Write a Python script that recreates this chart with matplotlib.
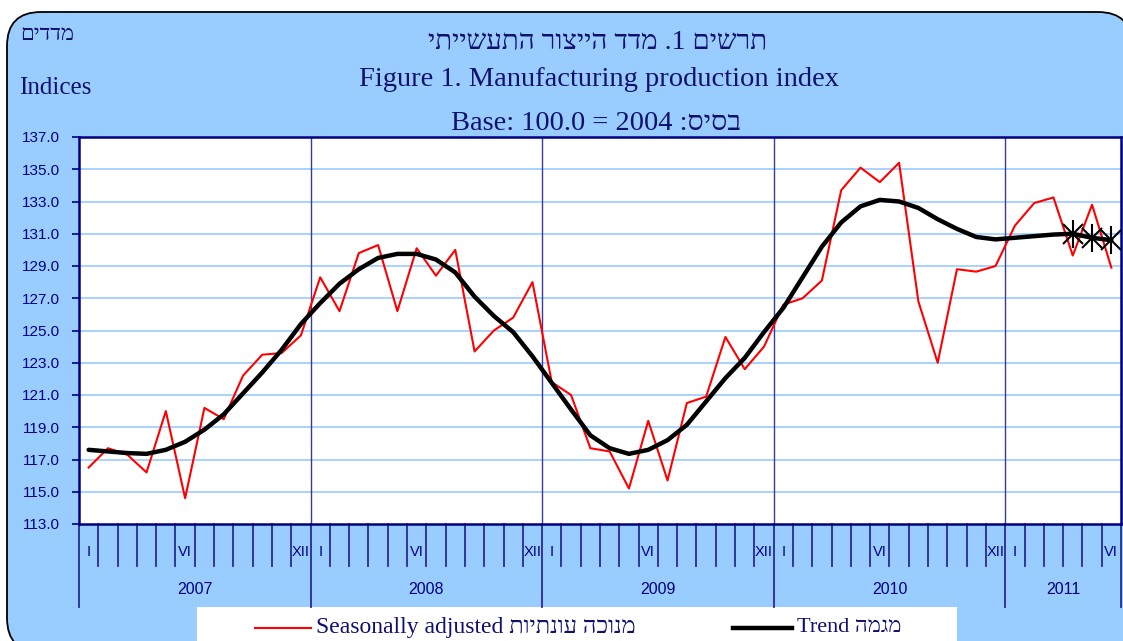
import numpy as np
import matplotlib
matplotlib.use("Agg")
import matplotlib.pyplot as plt
from matplotlib.patches import FancyBboxPatch, Rectangle
from matplotlib.lines import Line2D
import matplotlib.transforms as mtransforms

# ---------------- data ----------------
years = ["2007", "2008", "2009", "2010", "2011"]
months_per_year = [12, 12, 12, 12, 6]
month_labels = {0: "I", 5: "VI", 11: "XII"}

seasonally_adjusted = [
    116.5, 117.7, 117.3, 116.2, 120.0, 114.6, 120.2, 119.5, 122.2, 123.5, 123.6, 124.7,
    128.3, 126.2, 129.8, 130.3, 126.2, 130.1, 128.4, 130.0, 123.7, 125.0, 125.8, 128.0,
    121.8, 121.0, 117.7, 117.5, 115.2, 119.4, 115.7, 120.5, 120.9, 124.6, 122.6, 124.0,
    126.6, 127.0, 128.1, 133.7, 135.1, 134.2, 135.4, 126.8, 123.0, 128.8, 128.65, 129.0,
    131.5, 132.9, 133.25, 129.65, 132.8, 128.9,
]
trend = [
    117.6, 117.5, 117.4, 117.35, 117.6, 118.1, 118.85, 119.8, 121.1, 122.4, 123.8, 125.4,
    126.7, 127.9, 128.8, 129.5, 129.75, 129.75, 129.4, 128.6, 127.1, 125.9, 124.9, 123.4,
    121.75, 120.1, 118.5, 117.7, 117.35, 117.6, 118.2, 119.15, 120.6, 122.05, 123.3, 124.9,
    126.4, 128.3, 130.2, 131.7, 132.7, 133.1, 133.0, 132.6, 131.9, 131.3, 130.8, 130.65,
    130.75, 130.85, 130.95, 131.0, 130.75, 130.6,
]
provisional_points = 3  # last trend points marked with asterisks

yticks = np.arange(113, 137.1, 2)

# ---------------- helpers ----------------
def rtl(s):
    """Return visual (left-to-right) order for a logical Hebrew string."""
    words = s.split(" ")
    out = []
    for w in reversed(words):
        out.append(w[::-1])
    return " ".join(out)

NAVY = "#000080"
TXT = "#10106e"
BLUE_BG = "#99CCFF"
GRID = "#99CCFF"
SERIF = ["Liberation Serif", "DejaVu Serif", "DejaVu Sans"]
SANS = ["Liberation Sans", "DejaVu Sans"]

W, H = 1123, 641
fig = plt.figure(figsize=(W / 100, H / 100), dpi=100, facecolor="white")

# background panel (pixel coordinates)
bg = fig.add_axes([0, 0, 1, 1])
bg.set_xlim(0, W)
bg.set_ylim(H, 0)
bg.axis("off")
bg.add_patch(FancyBboxPatch((7, 12), 1125, 640, boxstyle="round,pad=0,rounding_size=34",
                            facecolor=BLUE_BG, edgecolor="black", linewidth=1.3))
bg.add_patch(Rectangle((197, 607), 760, 40, facecolor="white", edgecolor="none"))

# titles
bg.text(598, 42, rtl("תרשים 1. מדד הייצור התעשייתי"), ha="center", va="center",
        fontsize=20, color=TXT, family=SERIF)
bg.text(599, 80, "Figure 1. Manufacturing production index", ha="center", va="center",
        fontsize=20.5, color=TXT, family=SERIF)
bg.text(596, 124, "Base: 100.0 = 2004 " + rtl("בסיס:"), ha="center", va="center",
        fontsize=20.5, color=TXT, family=SERIF)
bg.text(20, 36, rtl("מדדים"), ha="left", va="center", fontsize=16, color=TXT, family=SERIF)
bg.text(19, 88, "Indices", ha="left", va="center", fontsize=18, color=TXT, family=SERIF)

# ---------------- main axes ----------------
left, right, top, bottom = 79, 1121, 137, 524
ax = fig.add_axes([left / W, 1 - bottom / H, (right - left) / W, (bottom - top) / H])
ax.set_facecolor("white")

n = len(seasonally_adjusted)
x = np.arange(n) + 0.5
ax.set_xlim(0, sum(months_per_year))
ax.set_ylim(113, 137)

ax.set_yticks(yticks)
ax.set_yticklabels([f"{v:.1f}" for v in yticks], family=SANS, fontsize=11, color=NAVY)
ax.tick_params(axis="y", direction="out", length=5, width=1.2, color=NAVY, pad=9)
ax.set_xticks([])
for y in yticks[1:]:
    ax.axhline(y, color=GRID, lw=1.2, zorder=1)

# year separators inside plot
bounds = np.cumsum([0] + months_per_year)
for b in bounds[1:-1]:
    ax.axvline(b, color="#3a3a9a", lw=1.0, zorder=1)

for s in ax.spines.values():
    s.set_color(NAVY)
    s.set_linewidth(1.8)

l1, = ax.plot(x, seasonally_adjusted, color="#ff0000", lw=1.5, zorder=3)
l2, = ax.plot(x, trend, color="black", lw=3.2, zorder=4, solid_capstyle="round")
ax.plot(x[-provisional_points:], trend[-provisional_points:], ls="none", marker="x",
        ms=14, mew=1.5, mec="black", zorder=5)
ax.plot(x[-provisional_points:], trend[-provisional_points:], ls="none", marker="|",
        ms=20, mew=1.5, mec="black", zorder=5)

# category axis decorations below the plot
trans = mtransforms.blended_transform_factory(ax.transData, ax.transAxes)
hpx = bottom - top
month_tick_end = -(566 - bottom) / hpx
year_tick_end = -(607 - bottom) / hpx
month_lab_y = -(552 - bottom) / hpx
year_lab_y = -(590 - bottom) / hpx
total = bounds[-1]
for m in range(total + 1):
    yend = year_tick_end if m in bounds else month_tick_end
    ax.plot([m, m], [0, yend], transform=trans, color="#2a2a96", lw=1.3, clip_on=False)
for yi, (yr, nm) in enumerate(zip(years, months_per_year)):
    start = bounds[yi]
    for k, lab in month_labels.items():
        if k < nm:
            ax.text(start + k + 0.5, month_lab_y, lab, transform=trans, ha="center", va="center",
                    fontsize=10.5, color=NAVY, family=SANS)
    ax.text(start + nm / 2, year_lab_y, yr, transform=trans, ha="center", va="center",
            fontsize=11.5, color=NAVY, family=SANS)

# legend (manual)
bg.add_line(Line2D([255, 311], [628, 628], color=l1.get_color(), lw=1.5))
bg.text(316, 628, "Seasonally adjusted " + rtl("מנוכה עונתיות"), ha="left", va="center",
        fontsize=17, color=TXT, family=SERIF)
bg.add_line(Line2D([733, 792], [628, 628], color=l2.get_color(), lw=3.2))
bg.text(797, 628, "Trend " + rtl("מגמה"), ha="left", va="center",
        fontsize=16, color=TXT, family=SERIF)

fig.savefig("out.png", dpi=100, facecolor="white")
